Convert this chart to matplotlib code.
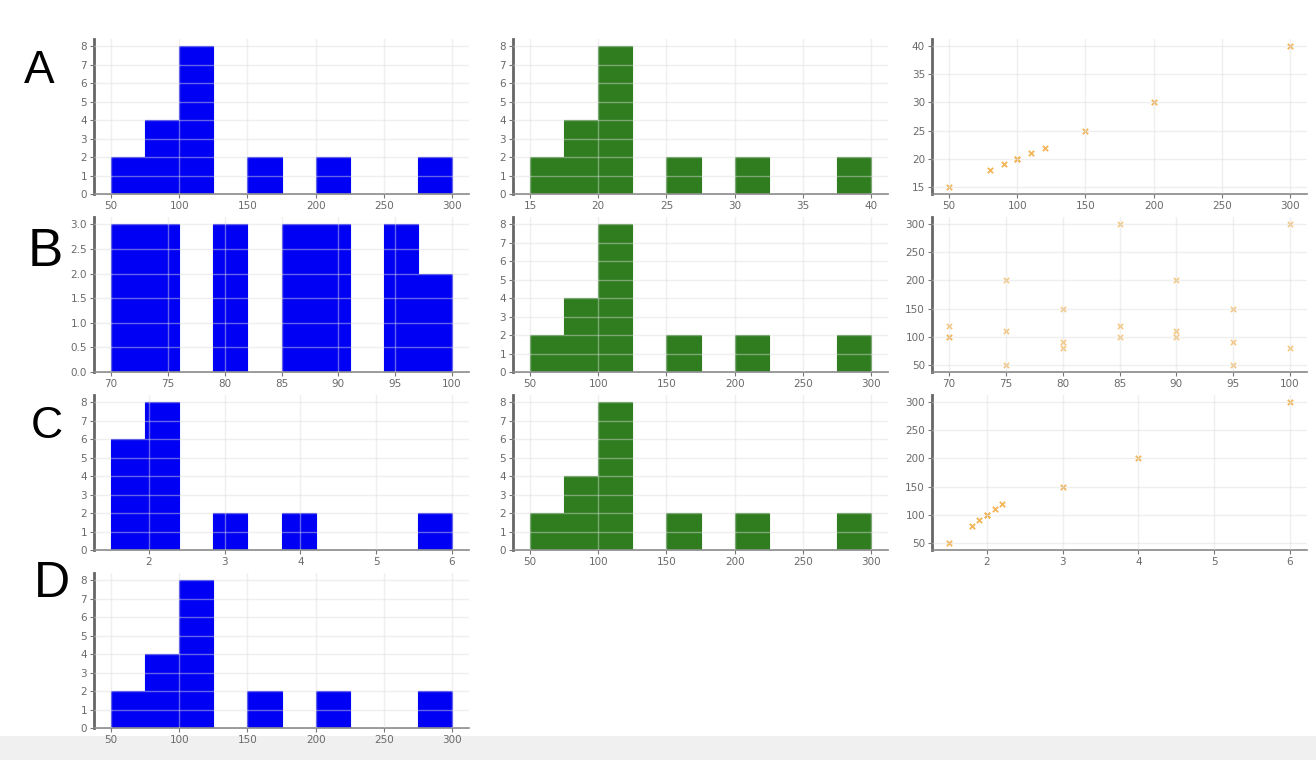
import matplotlib
matplotlib.use("Agg")
import matplotlib.pyplot as plt
from matplotlib.ticker import MultipleLocator
from matplotlib.patches import Rectangle

# raw data, 20 rows
price = [100, 100, 120, 50, 110, 200, 80, 90, 150, 100,
         120, 300, 100, 110, 200, 50, 90, 150, 80, 300]
size = [20, 20, 22, 15, 21, 30, 18, 19, 25, 20,
        22, 40, 20, 21, 30, 15, 19, 25, 18, 40]
score = [70, 70, 70, 75, 75, 75, 80, 80, 80, 85,
         85, 85, 90, 90, 90, 95, 95, 95, 100, 100]
ratio = [2.0, 2.0, 2.2, 1.5, 2.1, 4, 1.8, 1.9, 3, 2.0,
         2.2, 6, 2.0, 2.1, 4, 1.5, 1.9, 3, 1.8, 6]

row_labels = ["A", "B", "C", "D"]

BLUE = "#0000f5"
GREEN = "#2f7d1f"
ORANGE = "#f4b04a"

fig = plt.figure(figsize=(13.16, 7.6), dpi=100)

# light gray strip at the bottom of the screenshot
fig.patches.append(Rectangle((0, 0), 1, 0.032, transform=fig.transFigure,
                             facecolor="#f0f0f0", edgecolor="none", zorder=-1))

W, H = 1316, 760
col_left = [94, 513, 932]
row_top = [39, 217, 395, 573]
ax_w, ax_h = 375, 155


def make_ax(r, c):
    l = col_left[c] / W
    b = 1 - (row_top[r] + ax_h) / H
    ax = fig.add_axes([l, b, ax_w / W, ax_h / H])
    for s in ["top", "right"]:
        ax.spines[s].set_visible(False)
    ax.spines["left"].set_color("#666666")
    ax.spines["left"].set_linewidth(2)
    ax.spines["bottom"].set_color("#888888")
    ax.spines["bottom"].set_linewidth(1.2)
    ax.tick_params(labelsize=7.5, colors="#777777", length=3, width=0.8,
                   labelcolor="#6a6a6a", pad=2)
    ax.set_axisbelow(False)
    ax.grid(True, color="#dcdcdc", linewidth=1, alpha=0.45)
    return ax


def hist_panel(r, c, vals, color):
    ax = make_ax(r, c)
    ax.hist(vals, bins=10, color=color, edgecolor=color, linewidth=0.8)
    return ax


def scatter_panel(r, c, x, y):
    ax = make_ax(r, c)
    ax.scatter(x, y, marker="x", color=ORANGE, s=14, linewidths=1.2, alpha=0.7)
    return ax


# row A
ax = hist_panel(0, 0, price, BLUE)
ax.yaxis.set_major_locator(MultipleLocator(1))
ax = hist_panel(0, 1, size, GREEN)
ax.yaxis.set_major_locator(MultipleLocator(1))
ax = scatter_panel(0, 2, price, size)
ax.xaxis.set_major_locator(MultipleLocator(50))
ax.yaxis.set_major_locator(MultipleLocator(5))

# row B
ax = hist_panel(1, 0, score, BLUE)
ax.xaxis.set_major_locator(MultipleLocator(5))
ax.yaxis.set_major_locator(MultipleLocator(0.5))
ax = hist_panel(1, 1, price, GREEN)
ax.yaxis.set_major_locator(MultipleLocator(1))
ax = scatter_panel(1, 2, score, price)
ax.xaxis.set_major_locator(MultipleLocator(5))
ax.yaxis.set_major_locator(MultipleLocator(50))

# row C
ax = hist_panel(2, 0, ratio, BLUE)
ax.xaxis.set_major_locator(MultipleLocator(1))
ax.yaxis.set_major_locator(MultipleLocator(1))
ax = hist_panel(2, 1, price, GREEN)
ax.yaxis.set_major_locator(MultipleLocator(1))
ax = scatter_panel(2, 2, ratio, price)
ax.xaxis.set_major_locator(MultipleLocator(1))
ax.yaxis.set_major_locator(MultipleLocator(50))

# row D
ax = hist_panel(3, 0, price, BLUE)
ax.yaxis.set_major_locator(MultipleLocator(1))

# big row letters
label_pos = [(39, 71, 33), (45, 252, 38), (47, 427, 32), (52, 584, 36)]
for lab, (x, y, fs) in zip(row_labels, label_pos):
    fig.text(x / W, 1 - y / H, lab, fontsize=fs, family="Liberation Sans",
             ha="center", va="center", color="black")

fig.savefig("out.png", dpi=100)
